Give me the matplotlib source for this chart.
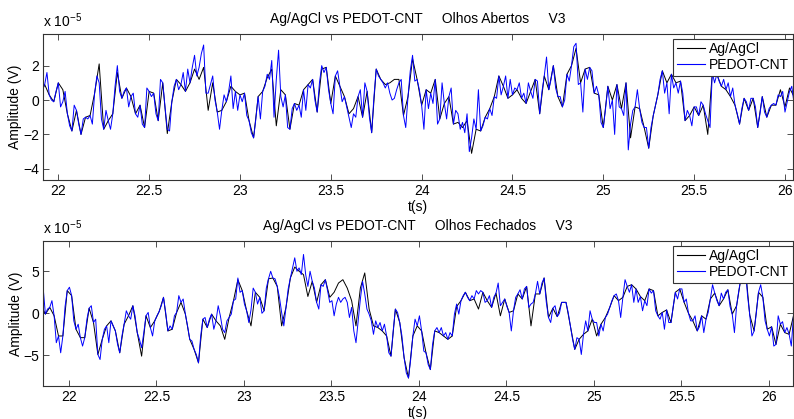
import numpy as np
import matplotlib
matplotlib.use("Agg")
import matplotlib.pyplot as plt

plt.rcParams['font.family'] = ['Liberation Sans', 'DejaVu Sans']
plt.rcParams['mathtext.default'] = 'regular'

# sampling grid (s)
dt = 0.0125
t0_open = 21.9
t0_closed = 21.84

# amplitudes in units of 1e-5 V
# Olhos Abertos, PEDOT-CNT (blue), one value per dt
open_pedot = [
    0.2, 0.6, 0.9, 1.6, 0.3, 0.0, -0.1, 0.5, 1.0, -0.4,
    -0.1, 0.5, -0.8, -1.5, -1.8, -0.3, -0.6, -1.4, -2.0, -1.1,
    -1.0, -1.1, -0.9, -1.4, 0.4, 1.4, 1.0, -1.1, -1.7, -0.6,
    -1.2, -1.7, -0.8, 0.8, 2.0, 0.5, 0.1, 0.5, 0.7, -0.4,
    0.2, 0.4, -0.8, -1.0, -0.3, -1.4, -1.6, 0.7, 0.5, 0.2,
    0.4, -0.8, -1.2, 1.2, 1.0, -0.4, -1.7, -1.8, -0.1, 0.8,
    1.2, 0.6, 0.9, 1.6, 0.5, 1.8, 1.0, 1.9, 2.6, 1.4,
    1.9, 2.7, 3.2, 0.4, 0.4, 0.9, 1.4, 0.0, -0.7, -1.7,
    -0.6, 0.3, -0.1, 0.5, 1.4, -0.5,
    0.5, -0.6, 0.3, -0.1, 0.4, -0.9, -1.2, -1.9, -2.2, -1.1,
    0.2, -1.1, 0.5, 0.8, 1.5, 1.2, 2.3, -1.0, 1.2, 2.9,
    0.2, -0.4, 0.3, -1.6, -1.7, -0.5, -0.2, -0.6, -0.3, -1.0,
    0.6, -0.6, 0.9, 0.7, 1.2, 0.0, -0.7, 1.0, 2.0, 1.6,
    1.9, 0.6, -0.2, -0.8, 1.4, 1.7, 0.8, -0.1, 0.2, -0.4,
    -1.0, -1.6, -0.8, -1.0, 0.2, 0.6, -1.0, 1.0, 0.5, -1.0,
    -1.9, 0.2, 1.8, 1.4, 1.2, 1.0, 0.7, 1.0, 0.4, 0.0,
    0.1, 0.6, 1.0, 1.2, -0.9, -1.6, 0.2, 1.7, 2.6, 1.1,
    1.2, 0.6, -0.3, -1.7,
    0.6, -0.5, 0.4, -0.2, 1.2, -1.4, -1.1, 1.0, -0.2, -1.1,
    0.2, 0.7, -1.4, -0.6, -0.8, -1.7, -1.3, -1.9, -0.8, -3.0,
    -2.2, -1.1, -1.7, 0.6, -1.8, -1.5, -1.0, -1.1, -0.5, -0.9,
    0.2, 0.1, 1.4, 0.3, 0.8, 1.4, 0.1, 1.2, 0.3, 0.7,
    0.6, 1.0, 0.1, 0.4, -0.2, 1.0, 0.5, 0.1, 1.2, 1.1,
    -0.8, 0.5, 1.4, 2.5, 0.6, 1.2, 2.0, 0.7, 0.2, 0.2,
    -0.4, 0.0, 1.5, 1.1, 2.0, 3.1, 3.3, 0.9, 1.0, -0.7,
    1.8, 1.2, 1.9, 1.7, 0.4, 0.8, 0.3, -1.3, -1.6, -0.5,
    0.8, -0.5, 0.0, -2.0,
    0.9, -0.4, -0.5, -0.9, 1.0, -2.9, -1.4, -0.6, -0.4, 0.6,
    -0.5, -1.3, -1.6, -1.6, -2.8, -1.6, -0.9, -0.3, 0.3, 1.2,
    1.7, 0.4, 1.0, -0.8, 1.5, 0.7, 1.0, 0.4, 1.1, 0.4,
    -1.2, -0.6, -0.9, -1.5, -0.4, -0.4, -0.9, -0.1, -0.3, -0.8,
    -1.2, -1.6, 1.6, 1.0, 1.5, 1.1, 0.8, 1.2, 0.6, 1.0,
    0.2, 0.7, -0.3, -0.8, -1.4, -0.5, 0.1, -0.1, -0.6, 0.1,
    0.1, -0.4, -1.6, -0.8, 0.2, -0.7, -1.0, -0.5, -0.3, -0.2,
    -0.3, 0.3, 0.2, 0.5, -0.7, -0.1, 0.5, 0.8, -0.2,
]

# Olhos Abertos, Ag/AgCl (black), one value per 2*dt
open_agcl = [
    0.2, 0.9, 0.3, -0.1, 1.0, 0.6, -0.8, -1.8, -0.6, -2.0,
    -1.0, -0.9, 0.4, 2.1, -1.7, -1.2, -0.8, 1.6, 0.1, 0.7,
    0.2, -0.8, -0.3, -1.6, 0.5, 0.4, -1.2, 1.0, -1.95, -0.1,
    1.2, 0.9, 0.5, 1.0, 1.8, 1.2, 1.9, -0.6, 1.0, -0.7,
    -0.6, -0.1, 0.8, 0.5, 0.3, 0.4, -1.2, -2.2, 0.2, 0.5,
    1.3, 1.8, -1.5, 0.6, 0.3, -1.7, -0.2, -0.3, 0.6, 0.9,
    1.2, -0.7, 1.8, 1.9, -0.2, 1.4, 0.8, 0.2, -0.8, -0.5,
    0.2, -1.0, 0.5, -1.9, 1.8, 1.2, 0.9, 1.0, 1.2, 1.2,
    -0.9, 0.2, 2.4, 1.2, -0.3, 0.6, 0.4, 1.2, -1.1, -0.2,
    0.2, -1.4, -1.3, -1.6, -1.2, -3.1, -1.7, -1.8, -1.0, -0.5,
    0.2, 1.4, 0.8, 0.1, 0.3, 0.6, 0.1, -0.2, 0.5, 1.2,
    -0.8, 1.4, 0.6, 2.0, 0.2, -0.4, 1.5, 2.0, 3.0, 1.0,
    1.8, 1.9, 0.4, 0.3, -1.6, 0.8, 0.0, 0.9, -0.5, 1.0,
    -2.2, -0.4, -0.5, -1.6, -2.8, -0.9, 0.3, 1.7, 1.0, 1.5,
    1.0, 1.1, -1.2, -0.9, -0.4, -0.9, -0.3, -2.0, 1.6, 1.5,
    0.8, 0.6, 0.2, -0.3, -1.4, 0.1, -0.6, 0.1, -1.6, 0.2,
    -1.0, -0.3, -0.3, 0.6, -0.4, 0.7, 0.2,
]

# Olhos Fechados, PEDOT-CNT (blue), one value per dt
closed_pedot = [
    1.0, 3.0, -0.1, 0.5, 0.7, 1.5, -0.3, -3.5, -2.7, -4.7,
    -2.7, 0.8, 2.7, 3.1, 2.1, -0.9, -1.9, -1.3, -2.9, -3.9,
    -2.9, -0.7, 0.6, 0.9, -1.1, -0.7, -4.9, -5.5, -3.1, -1.9,
    -1.5, -3.5, -0.9, -1.5, -2.1, -3.7, -4.7, -2.7, -1.3, 0.3,
    -0.3, -0.7, 0.9, -0.3, -2.3, -3.1, -4.1, -2.3, -0.3, 0.1,
    -1.7, -2.7, -0.9, -0.3, 0.2, 0.9, 1.9, 0.1, -2.1, -1.5,
    -1.9, -0.3, 0.1, 2.1, 1.3, 1.7, -0.1, -1.5, -3.1, -3.3,
    -4.3, -4.9, -5.9, -2.7, -0.7, -0.5, -1.7, -0.7, -0.1, -1.9,
    -0.9, 0.9, -0.3, -1.9, -2.3, -0.9, -0.5, -0.1, 1.5,
    1.7, 4.2, 2.5, 2.7, 1.1, 0.3, -1.1, 0.4, 3.0, 2.5,
    1.1, 1.9, 0.0, 0.3, 3.0, 4.1, 5.0, 4.2, 4.1, 3.2,
    1.9, 0.1, -1.5, 0.7, 2.9, 4.2, 5.4, 6.6, 5.0, 5.4,
    4.6, 7.0, 4.6, 3.2, 5.0, 3.8, 3.0, 1.3, 0.5, 3.4,
    3.2, 4.0, 2.7, 1.3, 1.5, -0.3, 1.1, 1.9, 1.3, 1.7,
    1.9, 1.3, -0.5, 0.7, -2.1, -3.5, -0.9, 1.7, 3.8, 2.3,
    0.5, -0.1, -0.9, -2.5, -0.9, -1.7, -1.1, -2.1, -1.3, -2.7,
    -4.7, -5.1, -2.1, 0.5, 0.1, -1.1, -2.7, -5.3, -7.1, -7.7,
    -5.5, -2.7, -0.7, -1.5, -0.3, -2.1, -4.5,
    -4.7, -6.1, -6.7, -3.7, -2.1, -1.7, -2.3, -1.7, -2.7, -2.3,
    -3.1, -2.3, -2.7, -0.1, 1.1, -0.1, 1.5, 2.1, 2.5, 1.9,
    1.5, 2.1, 1.7, 2.7, 2.3, 2.7, 2.5, 1.3, 1.5, 2.1,
    0.7, 1.9, 2.4, 3.6, 0.9, 1.3, 1.7, 0.8, 0.1, -2.1,
    0.3, 1.9, 2.3, 2.8, 1.7, 2.9, 3.2, 0.7, 1.1, 1.3,
    2.3, 3.8, 2.3, 3.6, 4.2, 1.3, -0.5, -1.1, 0.6, 0.9,
    -0.4, 0.0, 1.3, 1.3, 1.3, 0.1, -1.5, -3.1, -4.3, -2.9,
    -3.1, -4.9, -2.5, -0.9, -2.1, 0.3, -0.7, -1.1, -1.1, -2.7,
    -1.3, -2.1, -0.5, -0.1, 0.7, 1.5, 2.1, 2.3,
    1.5, -0.5, 1.9, 4.0, 3.2, 2.5, 3.4, 1.3, 2.9, 1.3,
    2.0, 0.3, 1.5, 0.9, 2.9, 2.4, 2.7, 0.3, -0.3, -0.7,
    0.1, -1.9, 0.4, -1.1, -1.1, 0.8, 2.5, 1.7, 2.9, 2.9,
    1.3, 1.7, 0.0, -0.9, -0.9, -0.3, -2.1, -1.6, -0.3, -2.3,
    -0.7, 0.1, 1.7, 3.4, 2.4, 1.5, 0.9, 2.4, 1.7, 2.5,
    2.8, 0.8, -0.1, -2.3, 0.9, 2.7, 4.2, 5.2, 5.4, 2.1,
    -0.2, -2.7, -2.1, 0.0, 2.5, 3.4, 1.9, -0.9, -1.9, -2.7,
    -1.6, -3.9, -3.7, -0.3, -1.3, -1.0, -2.3, -1.7, -2.5, -3.9,
    -0.3,
]

# Olhos Fechados, Ag/AgCl (black), one value per 2*dt
closed_agcl = [
    1.0, -0.1, 0.7, -0.3, -2.7, -2.7, 2.7, 2.1, -1.9, -2.9,
    -2.9, 0.6, -1.1, -4.9, -3.1, -1.5, -0.9, -2.1, -4.7, -1.3,
    -0.3, 0.9, -2.3, -5.1, -0.3, -1.7, -0.9, 0.2, 1.9, -2.1,
    -1.9, 0.1, 1.3, -0.1, -3.1, -4.3, -5.9, -0.7, -1.7, -0.1,
    -0.9, -1.5, -3.1, -0.5, 1.5, 4.0, 2.7, 0.3, -1.5, 2.5,
    1.9, 0.3, 4.1, 4.2, 3.2, -1.5, 0.7, 4.2, 5.5, 5.0,
    4.6, 2.0, 3.8, 1.3, 3.4, 4.0, 1.9, 2.5, 3.6, 4.0,
    3.0, 1.5, -1.5, 3.0, 4.8, 0.5, -1.5, -1.7, -2.1, -2.7,
    -5.1, 0.5, -1.1, -5.3, -7.7, -2.7, -1.5, -2.1, -4.7, -6.7,
    -2.1, -2.3, -2.7, -3.1, -2.7, 0.8, 1.5, 2.5, 1.5, 1.7,
    0.5, 2.5, 1.5, 0.7, 2.4, -0.3, 1.7, 0.1, 0.3, 2.3,
    1.7, 3.2, -1.5, 2.3, 2.3, 4.2, -0.5, 0.6, -0.4, 1.3,
    1.3, -1.5, -4.3, -3.1, -2.5, -2.1, -0.7, -2.7, -1.3, -0.5,
    0.7, 2.1, 1.5, 1.9, 3.2, 3.4, 2.9, 2.0, 1.5, 2.9,
    2.7, -0.3, 0.1, 0.4, -1.1, 2.5, 2.9, 1.3, 0.0, -0.9,
    -2.1, -0.3, -0.7, 1.7, 2.4, 0.9, 1.7, 2.8, -0.1, 0.9,
    4.2, 5.4, -0.2, -2.1, 2.5, 1.9, -1.9, -1.6, -3.7, -1.3,
    -2.3, -2.5, -0.3,
]

panels = [
    ("Ag/AgCl vs PEDOT-CNT     Olhos Abertos     V3", t0_open, open_agcl, open_pedot,
     (21.916, 26.044), (-4.65, 3.84), [-4, -2, 0, 2]),
    ("Ag/AgCl vs PEDOT-CNT     Olhos Fechados     V3", t0_closed, closed_agcl, closed_pedot,
     (21.853, 26.137), (-8.65, 8.6), [-5, 0, 5]),
]

fig = plt.figure(figsize=(7.94, 4.19), dpi=100)
ax1 = fig.add_axes([0.0542, 0.5704, 0.9445, 0.3485])
ax2 = fig.add_axes([0.0545, 0.0788, 0.9442, 0.3460])

for ax, (title, t0, agcl, pedot, xl, yl, yt) in zip([ax1, ax2], panels):
    t_b = t0 + 2 * dt * np.arange(len(agcl))
    t_p = t0 + dt * np.arange(len(pedot))
    ax.plot(t_b, agcl, color='black', lw=0.7, label='Ag/AgCl')
    ax.plot(t_p, pedot, color='#0000ff', lw=0.7, label='PEDOT-CNT')
    ax.set_xlim(*xl)
    ax.set_ylim(*yl)
    ax.set_yticks(yt)
    ax.set_xticks(np.arange(22, 26.01, 0.5))
    ax.set_xticklabels(['22', '22.5', '23', '23.5', '24', '24.5', '25', '25.5', '26'])
    ax.tick_params(direction='in', top=True, right=True, length=4, width=0.6,
                   labelsize=10, pad=3, color='#333333')
    for s in ax.spines.values():
        s.set_linewidth(0.8)
        s.set_color('#333333')
    ax.set_title(title, fontsize=10, pad=8)
    ax.set_xlabel('t(s)', fontsize=10, labelpad=1)
    ax.set_ylabel('Amplitude (V)', fontsize=10, labelpad=0.5)
    ax.text(0.0, 1.025, r'x 10$^{-5}$', transform=ax.transAxes, fontsize=10,
            ha='left', va='bottom')
    leg = ax.legend(loc='upper right', bbox_to_anchor=(1.0, 0.968), borderaxespad=0,
                    fontsize=10, fancybox=False, framealpha=1, edgecolor='#333333',
                    borderpad=0.25, labelspacing=0.15, handlelength=2.0,
                    handletextpad=0.35)
    leg.get_frame().set_linewidth(0.8)
    for line in leg.get_lines():
        line.set_linewidth(0.8)

fig.savefig('out.png', dpi=100)
